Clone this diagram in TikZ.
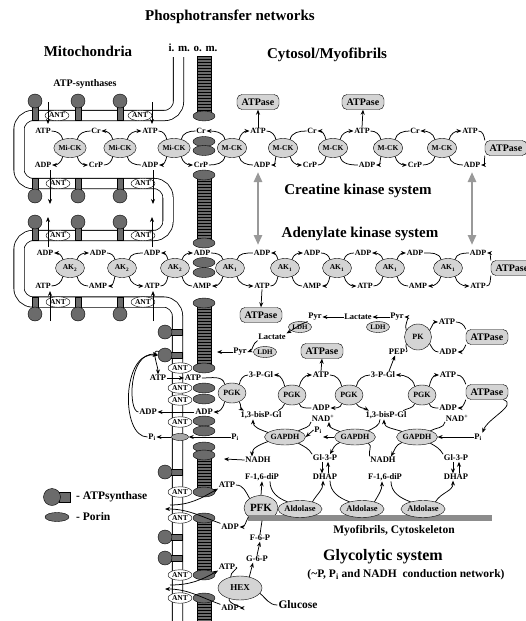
\documentclass[tikz,border=0pt]{standalone}
\usepackage{fontspec}
\setmainfont{Liberation Serif}
\usetikzlibrary{shapes.geometric,arrows.meta}
\definecolor{enzg}{gray}{0.83}
\definecolor{porg}{gray}{0.42}
\definecolor{barg}{gray}{0.55}
\definecolor{arrg}{gray}{0.6}
\newcommand\rxnF[5]{%
  \draw[cv] (#1.130) to[out=100,in=0] (#2.east);
  \draw[cv] (#1.50) to[out=80,in=180] (#3.west);
  \draw[cv,ah] (#1.230) to[out=-100,in=0] (#4.east);
  \draw[cv,ah] (#1.310) to[out=-80,in=180] (#5.west);}
\newcommand\rxnR[5]{%
  \draw[cv,ah] (#1.130) to[out=100,in=0] (#2.east);
  \draw[cv,ah] (#1.50) to[out=80,in=180] (#3.west);
  \draw[cv] (#1.230) to[out=-100,in=0] (#4.east);
  \draw[cv] (#1.310) to[out=-80,in=180] (#5.west);}
\newcommand\pcol[2]{%
  \filldraw[fill=porg,line width=0.5pt] (197,#1) rectangle (211,#2);
  \draw[line width=13.5pt,dash pattern=on 0.7pt off 2.3pt] (204,#1) -- (204,#2);}
\begin{document}
\begin{tikzpicture}[x=1pt,y=-1pt,
  lb/.style={font=\fontsize{8}{8}\selectfont\bfseries, inner sep=0.6pt},
  gl/.style={font=\fontsize{8.5}{9}\selectfont\bfseries, inner sep=0.6pt},
  lbw/.style={lb, fill=white},
  enz/.style={ellipse, draw, fill=enzg, font=\fontsize{7.5}{8}\selectfont\bfseries, inner sep=0pt, minimum width=29pt, minimum height=19pt},
  abox/.style={draw, rounded corners=5pt, fill=enzg, font=\fontsize{10}{10}\selectfont\bfseries, minimum width=42pt, minimum height=15pt, inner sep=0pt},
  ant/.style={ellipse, draw, fill=white, font=\fontsize{7.5}{8}\selectfont\bfseries, inner sep=0pt, minimum width=24pt, minimum height=10.5pt},
  por/.style={ellipse, draw, fill=porg, inner sep=0pt, minimum width=22pt, minimum height=10pt},
  head/.style={circle, draw, fill=porg, inner sep=0pt, minimum size=14pt},
  cv/.style={line width=0.75pt},
  ah/.style={-{Stealth[length=5pt,width=4pt]}},
  ttl/.style={font=\fontsize{15}{17}\selectfont\bfseries},
  mid/.style={font=\fontsize{11.5}{13}\selectfont\bfseries, inner sep=1pt},
  garr/.style={draw=arrg, line width=2.5pt, {Triangle[length=10pt,width=8pt]}-{Triangle[length=10pt,width=8pt]}}
]
\useasboundingbox (0,0) rectangle (526,621);
\clip (0,0) rectangle (526,621);

% ---------------- titles ----------------
\node[ttl] (tPN) at (230,17) {Phosphotransfer networks};
\node[ttl] (tMi) at (88,51) {Mitochondria};
\node[font=\fontsize{11}{12}\selectfont\bfseries] (tIM) at (193,48) {i. m. o. m.};
\node[ttl] (tCy) at (327,55) {Cytosol/Myofibrils};
\node[font=\fontsize{10}{11}\selectfont\bfseries] (tAS) at (85,84) {ATP-synthases};
\node[ttl] (tCK) at (358,191) {Creatine kinase system};
\node[ttl] (tAK) at (360,234) {Adenylate kinase system};
\node[mid] (tMy) at (394,531) {Myofibrils, Cytoskeleton};
\node[font=\fontsize{16}{17}\selectfont\bfseries] (tGl) at (383,557) {Glycolytic system};
\node[mid] (tCn) at (406,575) {(\textasciitilde P, P\textsubscript{i} and NADH\ \ conduction network)};

% ---------------- inner membrane tube ----------------
\draw[line width=0.8pt, double=white, double distance=9.5pt, rounded corners=14pt]
  (178.5,57) -- (178.5,115.5) -- (19,115.5) -- (19,183.5) -- (168,183.5) -- (168,235.5)
  -- (19,235.5) -- (19,302) -- (177.5,302) -- (177.5,640);

% ATP synthases on cristae
\foreach \x in {35,78,120} {
  \filldraw[fill=porg] (\x-3,105) rectangle (\x+3,120.5);
  \node[head] (hA\x) at (\x,101) {};
  \filldraw[fill=porg] (\x-3,178.5) rectangle (\x+3,192);
  \node[head] (hB\x) at (\x,196) {};
  \filldraw[fill=porg] (\x-3,226) rectangle (\x+3,240.5);
  \node[head] (hC\x) at (\x,222) {};
  \filldraw[fill=porg] (\x-3,297) rectangle (\x+3,310);
  \node[head] (hD\x) at (\x,314) {};
}
\foreach \y/\n in {332/1,355/2,472/3,537/4,558/5} {
  \filldraw[fill=porg] (169,\y-3) rectangle (182.5,\y+3);
  \node[head] (hv\n) at (165,\y) {};
}

% ANTs
\node[ant] (an1) at (57,115.5) {ANT};
\node[ant] (an2) at (140,115.5) {ANT};
\node[ant] (an3) at (58,183.5) {ANT};
\node[ant] (an4) at (143,183.5) {ANT};
\node[ant] (an5) at (58,235.5) {ANT};
\node[ant] (an6) at (143,235.5) {ANT};
\node[ant] (an7) at (58,302) {ANT};
\node[ant] (an8) at (143,302) {ANT};
\foreach \y/\n in {368/a,388/b,400/c,422/d,492/e,518/f,575/g,598/h} {
  \node[ant] (av\n) at (180,\y) {ANT};
}

% ---------------- porin columns (outer membrane) ----------------
\pcol{56}{113}
\node[por] (pc1b) at (204,116) {};
\node[por] (pp1a) at (204,141.5) {};
\node[por] (pp1b) at (204,150.5) {};
\pcol{175}{243}
\node[por] (pc2a) at (204,175) {};
\node[por] (pc2b) at (204,243) {};
\node[por] (pp2a) at (204,262.5) {};
\node[por] (pp2b) at (204,272.5) {};
\pcol{303}{368}
\node[por] (pc3a) at (204,303) {};
\node[por] (pc3b) at (204,368) {};
\node[por] (pp3a) at (204,388) {};
\node[por] (pp3b) at (204,399) {};
\node[por] (pp4a) at (204,421) {};
\node[por] (pp4b) at (204,431) {};
\node[por] (pp5) at (204,447) {};
\pcol{455}{492}
\node[por] (pc4a) at (204,455) {};
\node[por] (pc4b) at (204,492) {};
\pcol{518}{575}
\node[por] (pc5a) at (204,518) {};
\node[por] (pc5b) at (204,575) {};
\pcol{598}{630}
\node[por] (pc6a) at (204,598) {};

% ---------------- creatine kinase row ----------------
\node[lb] (ckt1) at (43,131) {ATP};
\node[lb] (ckt2) at (96,131) {Cr};
\node[lb] (ckt3) at (150,131) {ATP};
\node[lb] (ckt4) at (201,131) {Cr};
\node[lb] (ckt5) at (258,131) {ATP};
\node[lb] (ckt6) at (312,131) {Cr};
\node[lb] (ckt7) at (362,131) {ATP};
\node[lb] (ckt8) at (415,131) {Cr};
\node[lb] (ckt9) at (470,131) {ATP};
\node[lb] (ckb1) at (43,165) {ADP};
\node[lb] (ckb2) at (96,165) {CrP};
\node[lb] (ckb3) at (150,165) {ADP};
\node[lb] (ckb4) at (201,165) {CrP};
\node[lb] (ckb5) at (262,165) {ADP};
\node[lb] (ckb6) at (310,165) {CrP};
\node[lb] (ckb7) at (367,165) {ADP};
\node[lb] (ckb8) at (415,165) {CrP};
\node[lb] (ckb9) at (472,165) {ADP};
\node[enz] (ck1) at (70,148) {Mi-CK};
\node[enz] (ck2) at (120,148) {Mi-CK};
\node[enz] (ck3) at (174,148) {Mi-CK};
\node[enz] (ck4) at (232,148) {M-CK};
\node[enz] (ck5) at (283,148) {M-CK};
\node[enz] (ck6) at (333,148) {M-CK};
\node[enz] (ck7) at (388,148) {M-CK};
\node[enz] (ck8) at (442,148) {M-CK};
\node[abox] (ckA) at (506,148) {ATPase};
\node[abox] (ckP1) at (258,102) {ATPase};
\node[abox] (ckP2) at (363,102) {ATPase};
\rxnF{ck1}{ckt1}{ckt2}{ckb1}{ckb2}
\rxnR{ck2}{ckt2}{ckt3}{ckb2}{ckb3}
\rxnF{ck3}{ckt3}{ckt4}{ckb3}{ckb4}
\rxnR{ck4}{ckt4}{ckt5}{ckb4}{ckb5}
\rxnF{ck5}{ckt5}{ckt6}{ckb5}{ckb6}
\rxnR{ck6}{ckt6}{ckt7}{ckb6}{ckb7}
\rxnF{ck7}{ckt7}{ckt8}{ckb7}{ckb8}
\rxnR{ck8}{ckt8}{ckt9}{ckb8}{ckb9}
\draw[cv] (ckA.160) to[out=100,in=0] (ckt9.east);
\draw[cv,ah] (ckA.200) to[out=-100,in=0] (ckb9.east);
\draw[cv,ah] (ckt5.north) -- (ckP1.south);
\draw[cv,ah] (ckt7.north) -- (ckP2.south);

% ---------------- adenylate kinase row ----------------
\node[lb] (akt1) at (45,253) {ADP};
\node[lb] (akt2) at (98,253) {ADP};
\node[lb] (akt3) at (152,253) {ADP};
\node[lb] (akt4) at (202,253) {ADP};
\node[lb] (akt5) at (262,253) {ADP};
\node[lb] (akt6) at (312,253) {ADP};
\node[lb] (akt7) at (363,253) {ADP};
\node[lb] (akt8) at (415,253) {ADP};
\node[lb] (akt9) at (478,253) {ADP};
\node[lb] (akb1) at (43,286) {ATP};
\node[lb] (akb2) at (98,286) {AMP};
\node[lb] (akb3) at (152,286) {ATP};
\node[lb] (akb4) at (202,286) {AMP};
\node[lb] (akb5) at (262,286) {ATP};
\node[lb] (akb6) at (312,286) {AMP};
\node[lb] (akb7) at (365,286) {ATP};
\node[lb] (akb8) at (418,286) {AMP};
\node[lb] (akb9) at (478,286) {ATP};
\node[enz] (ak1) at (70,268) {AK\textsubscript{2}};
\node[enz] (ak2) at (122,268) {AK\textsubscript{2}};
\node[enz] (ak3) at (175,268) {AK\textsubscript{2}};
\node[enz] (ak4) at (230,268) {AK\textsubscript{1}};
\node[enz] (ak5) at (285,268) {AK\textsubscript{1}};
\node[enz] (ak6) at (337,268) {AK\textsubscript{1}};
\node[enz] (ak7) at (390,268) {AK\textsubscript{1}};
\node[enz] (ak8) at (448,268) {AK\textsubscript{1}};
\node[abox] (akA) at (512,268) {ATPase};
\node[abox] (akP) at (261,315) {ATPase};
\rxnR{ak1}{akt1}{akt2}{akb1}{akb2}
\rxnF{ak2}{akt2}{akt3}{akb2}{akb3}
\rxnR{ak3}{akt3}{akt4}{akb3}{akb4}
\rxnF{ak4}{akt4}{akt5}{akb4}{akb5}
\rxnR{ak5}{akt5}{akt6}{akb5}{akb6}
\rxnF{ak6}{akt6}{akt7}{akb6}{akb7}
\rxnR{ak7}{akt7}{akt8}{akb7}{akb8}
\rxnF{ak8}{akt8}{akt9}{akb8}{akb9}
\draw[cv,ah] (akA.160) to[out=100,in=0] (akt9.east);
\draw[cv] (akA.200) to[out=-100,in=0] (akb9.east);
\draw[cv,ah] (akb5.south) -- (akP.north);

% gray double arrows
\coordinate (g1a) at (258,172); \coordinate (g1b) at (258,245);
\coordinate (g2a) at (472,172); \coordinate (g2b) at (472,245);
\draw[garr] (g1a) -- (g1b);
\draw[garr] (g2a) -- (g2b);

% arrows through the ANTs of the cristae
\foreach \xa/\ya/\yb in {48/102/124, 152/102/124, 50/170/204, 153/170/204, 48/247/217, 152/247/217, 50/321/291, 153/321/291} {
  \coordinate (sA) at (\xa,\ya); \coordinate (sB) at (\xa,\yb);
  \draw[cv,ah] (sA) -- (sB);
}

% ---------------- glycolysis ----------------
% lactate / pyruvate
\node[gl] (pyrt) at (315,317) {Pyr};
\node[gl] (lact) at (358,317) {Lactate};
\node[gl] (pyrt2) at (397,317) {Pyr};
\node[enz, minimum width=23pt, minimum height=11pt, font=\fontsize{7}{7}\selectfont\bfseries] (ldh1) at (378,327) {LDH};
\node[enz, minimum width=23pt, minimum height=11pt, font=\fontsize{7}{7}\selectfont\bfseries] (ldh2) at (300,327) {LDH};
\node[gl] (lactm) at (272,337) {Lactate};
\node[gl] (pyrm) at (240,352) {Pyr};
\node[enz, minimum width=23pt, minimum height=11pt, font=\fontsize{7}{7}\selectfont\bfseries] (ldh3) at (265,352) {LDH};
\coordinate (pyrE) at (217,352);
\draw[cv,ah] (lact.west) -- (pyrt.east);
\draw[cv,ah] (pyrt2.west) -- (lact.east);
\draw[cv,ah] (pyrt.south west) to[out=-160,in=30] (lactm.north east);
\draw[cv,ah] (lactm.south west) to[out=-150,in=20] (pyrm.east);
\draw[cv,ah] (pyrm.west) -- (pyrE);

% pyruvate kinase
\node[enz, minimum width=27pt, minimum height=26pt, font=\fontsize{8}{8}\selectfont\bfseries] (pk) at (418,337) {PK};
\node[gl] (pep) at (397,352) {PEP};
\node[gl] (atpk) at (447,322) {ATP};
\node[gl] (adpk) at (448,352) {ADP};
\node[abox] (pkA) at (487,337) {ATPase};
\draw[cv,ah] (pk.150) to[out=120,in=0] (pyrt2.east);
\draw[cv] (pep.east) to[out=0,in=-120] (pk.210);
\draw[cv,ah] (pk.30) to[out=60,in=180] (atpk.west);
\draw[cv] (pk.-30) to[out=-60,in=180] (adpk.west);
\draw[cv] (atpk.east) to[out=0,in=110] (pkA.160);
\draw[cv,ah] (pkA.200) to[out=-110,in=0] (adpk.east);

% PGK row
\node[gl,fill=white] (atpL) at (158,378) {ATP};
\node[gl,fill=white] (pgt1) at (193,378) {ATP};
\node[gl] (pgt2) at (261,375) {3-P-Gl};
\node[gl] (pgt3) at (321,375) {ATP};
\node[gl] (pgt4) at (383,375) {3-P-Gl};
\node[gl] (pgt5) at (448,375) {ATP};
\node[gl,fill=white] (adpL) at (148,412) {ADP};
\node[gl,fill=white] (pgb1) at (204,412) {ADP};
\node[gl] (pgb2) at (261,415) {1,3-bisP-Gl};
\node[gl] (pgb3) at (321,408) {ADP};
\node[gl] (pgb4) at (386,415) {1,3-bisP-Gl};
\node[gl] (pgb5) at (448,408) {ADP};
\node[enz, minimum width=28pt, minimum height=20pt, font=\fontsize{8}{8}\selectfont\bfseries] (pg1) at (232,393) {PGK};
\node[enz, minimum width=28pt, minimum height=20pt, font=\fontsize{8}{8}\selectfont\bfseries] (pg2) at (292,395) {PGK};
\node[enz, minimum width=28pt, minimum height=20pt, font=\fontsize{8}{8}\selectfont\bfseries] (pg3) at (349,395) {PGK};
\node[enz, minimum width=28pt, minimum height=20pt, font=\fontsize{8}{8}\selectfont\bfseries] (pg4) at (422,395) {PGK};
\node[abox] (pgA) at (487,392) {ATPase};
\node[abox] (pgP) at (322,351) {ATPase};
\draw[cv,ah] (atpL.east) -- (pgt1.west);
\draw[cv,ah] (pgb1.west) -- (adpL.east);
\draw[cv] (pg1.130) to[out=100,in=0] (pgt1.east);
\draw[cv] (pg1.50) to[out=80,in=180] (pgt2.west);
\draw[cv,ah] (pg1.230) to[out=-100,in=0] (pgb1.east);
\draw[cv,ah] (pg1.310) to[out=-60,in=150] ([xshift=4pt]pgb2.north west);
\draw[cv,ah] (pg2.130) to[out=100,in=0] (pgt2.east);
\draw[cv,ah] (pg2.50) to[out=80,in=180] (pgt3.west);
\draw[cv] (pg2.230) to[out=-110,in=30] ([xshift=-4pt]pgb2.north east);
\draw[cv] (pg2.310) to[out=-80,in=180] (pgb3.west);
\draw[cv] (pg3.130) to[out=100,in=0] (pgt3.east);
\draw[cv] (pg3.50) to[out=80,in=180] (pgt4.west);
\draw[cv,ah] (pg3.230) to[out=-100,in=0] (pgb3.east);
\draw[cv,ah] (pg3.310) to[out=-60,in=150] ([xshift=4pt]pgb4.north west);
\draw[cv,ah] (pg4.130) to[out=100,in=0] (pgt4.east);
\draw[cv,ah] (pg4.50) to[out=80,in=180] (pgt5.west);
\draw[cv] (pg4.230) to[out=-110,in=30] ([xshift=-4pt]pgb4.north east);
\draw[cv] (pg4.310) to[out=-80,in=180] (pgb5.west);
\draw[cv] (pgt5.east) to[out=0,in=110] (pgA.160);
\draw[cv,ah] (pgA.200) to[out=-110,in=0] (pgb5.east);
\draw[cv,ah] (pgt3.north) -- (pgP.south);
\draw[cv,ah] ([xshift=6pt]pgt4.north) -- ([xshift=-2pt]pep.south);

% GAPDH row
\node[gl] (nad1) at (323,418) {NAD\textsuperscript{+}};
\node[gl] (nad2) at (457,418) {NAD\textsuperscript{+}};
\node[gl] (pia) at (318,430) {P\textsubscript{i}};
\node[gl] (pib) at (478,437) {P\textsubscript{i}};
\node[gl,fill=white] (piL) at (235,437) {P\textsubscript{i}};
\node[gl,fill=white] (piF) at (152,437) {P\textsubscript{i}};
\node[ellipse, draw, fill=porg!60, minimum width=17pt, minimum height=7pt, inner sep=0pt] (pic) at (180,437) {};
\node[gl] (nadh1) at (258,460) {NADH};
\node[gl] (nadh2) at (383,460) {NADH};
\node[gl] (gl3p1) at (325,458) {Gl-3-P};
\node[gl] (gl3p2) at (456,458) {Gl-3-P};
\node[enz, minimum width=38pt, minimum height=16pt, font=\fontsize{8}{8}\selectfont\bfseries] (gd1) at (285,437) {GAPDH};
\node[enz, minimum width=38pt, minimum height=16pt, font=\fontsize{8}{8}\selectfont\bfseries] (gd2) at (355,437) {GAPDH};
\node[enz, minimum width=38pt, minimum height=16pt, font=\fontsize{8}{8}\selectfont\bfseries] (gd3) at (417,437) {GAPDH};
\coordinate (pia2) at (323,437);
\coordinate (nadhE) at (224,459);
\draw[cv,ah] (gd1.165) to[out=160,in=-90] ([xshift=-8pt]pgb2.south);
\draw[cv,ah] (gd1.195) to[out=200,in=90] ([xshift=-6pt]nadh1.north);
\draw[cv] (nad1.south west) to[out=-100,in=30] (gd1.25);
\draw[cv] (gl3p1.north west) to[out=120,in=-30] (gd1.-25);
\draw[cv,ah] (pia.west) -- (gd1.east);
\draw[cv,ah] (gd2.west) -- (pia2);
\draw[cv,ah] (gd2.160) to[out=160,in=-90] ([xshift=6pt]nad1.south);
\draw[cv,ah] (gd2.200) to[out=200,in=60] ([xshift=5pt]gl3p1.north);
\draw[cv] ([xshift=-6pt]pgb4.south) to[out=-90,in=30] (gd2.25);
\draw[cv] (nadh2.north west) to[out=110,in=-30] (gd2.-25);
\draw[cv,ah] (gd3.160) to[out=160,in=-90] ([xshift=-2pt]pgb4.south);
\draw[cv,ah] (gd3.200) to[out=200,in=60] ([xshift=8pt]nadh2.north);
\draw[cv] (nad2.south west) to[out=-100,in=30] (gd3.25);
\draw[cv] (gl3p2.north west) to[out=120,in=-30] (gd3.-25);
\draw[cv,ah] (pib.west) -- (gd3.east);
\draw[cv,ah] (pgA.-25) to[out=-20,in=70] (pib.north east);
\draw[cv,ah] (nadh1.west) -- (nadhE);
\draw[cv,ah] (piL.west) -- (pic.east);
\draw[cv,ah] (pic.west) -- (piF.east);

% aldolase row
\node[gl] (f16a) at (262,477) {F-1,6-diP};
\node[gl] (dhapa) at (325,477) {DHAP};
\node[gl] (f16b) at (385,477) {F-1,6-diP};
\node[gl] (dhapb) at (456,477) {DHAP};
\draw[cv,ah] ([xshift=-3pt]gl3p1.south) -- ([xshift=-3pt]dhapa.north);
\draw[cv,ah] ([xshift=3pt]dhapa.north) -- ([xshift=3pt]gl3p1.south);
\draw[cv,ah] ([xshift=-3pt]gl3p2.south) -- ([xshift=-3pt]dhapb.north);
\draw[cv,ah] ([xshift=3pt]dhapb.north) -- ([xshift=3pt]gl3p2.south);
\node[enz, minimum width=34pt, minimum height=25pt, font=\fontsize{11}{11}\selectfont\bfseries] (pfk) at (261,508) {PFK};
\fill[barg] (248,515) rectangle (492,521);
\node[enz, minimum width=44pt, minimum height=17pt, font=\fontsize{8.5}{9}\selectfont\bfseries] (al1) at (300,509) {Aldolase};
\node[enz, minimum width=44pt, minimum height=17pt, font=\fontsize{8.5}{9}\selectfont\bfseries] (al2) at (362,509) {Aldolase};
\node[enz, minimum width=44pt, minimum height=17pt, font=\fontsize{8.5}{9}\selectfont\bfseries] (al3) at (423,509) {Aldolase};
\draw[cv] ([xshift=8pt]f16a.south) to[out=-90,in=160] (al1.150);
\draw[cv,ah] (al1.30) to[out=60,in=-90] ([xshift=-2pt]dhapa.south);
\draw[cv] ([xshift=5pt]dhapa.south) to[out=-90,in=160] (al2.150);
\draw[cv,ah] (al2.30) to[out=60,in=-90] ([xshift=-3pt]f16b.south);
\draw[cv] ([xshift=6pt]f16b.south) to[out=-90,in=160] (al3.150);
\draw[cv,ah] (al3.30) to[out=60,in=-90] ([xshift=-3pt]dhapb.south);

% PFK and HEX
\node[gl,fill=white] (atpp) at (227,485) {ATP};
\node[gl,fill=white] (adpp) at (230,527) {ADP};
\node[gl] (f6p) at (260,538) {F-6-P};
\node[gl] (g6p) at (257,559) {G-6-P};
\node[gl,fill=white] (atph) at (227,567) {ATP};
\node[gl,fill=white] (adph) at (230,608) {ADP};
\node[enz, minimum width=44pt, minimum height=24pt, font=\fontsize{9}{9}\selectfont\bfseries] (hex) at (240,588) {HEX};
\node[mid] (glc) at (298,605) {Glucose};
\draw[cv,ah] (pfk.north) -- (f16a.south);
\draw[cv] (atpp.east) to[out=0,in=120] (pfk.140);
\draw[cv,ah] (pfk.215) to[out=-120,in=0] (adpp.east);
\draw[cv] (f6p.north) -- ([xshift=1pt]pfk.south);
\draw[cv,ah] (g6p.north) -- (f6p.south);
\draw[cv,ah] (hex.50) -- ([xshift=-4pt]g6p.south);
\draw[cv] (atph.east) to[out=0,in=110] (hex.130);
\draw[cv,ah] (hex.225) to[out=-120,in=0] (adph.east);
\draw[cv] (hex.-15) to[out=-40,in=180] (glc.west);
\coordinate (mA1) at (170,505); \coordinate (mA2) at (165,509);
\coordinate (mB1) at (170,585); \coordinate (mB2) at (165,589);
\draw[cv,ah] (mA1) to[out=0,in=-150] (atpp.south west);
\draw[cv,ah] (adpp.north west) to[out=160,in=0] (mA2);
\draw[cv,ah] (mB1) to[out=0,in=-150] (atph.south west);
\draw[cv,ah] (adph.north west) to[out=160,in=0] (mB2);

% matrix side near the vertical membrane
\draw[cv,ah] (hv2.150) to[out=160,in=90] (atpL.north);
\draw[cv,ah] (adpL.west) .. controls (128,412) and (128,352) .. (hv2.175);
\draw[cv,ah] (piF.west) .. controls (120,437) and (122,350) .. (hv2.185);

% legend
\filldraw[fill=porg] (59,492) rectangle (70,502);
\node[head, minimum size=17pt] (lgH) at (52,497) {};
\node[mid, anchor=west] (lgT1) at (75,497) {- ATPsynthase};
\node[por, minimum width=24pt, minimum height=9pt] (lgP) at (57,517) {};
\node[mid, anchor=west] (lgT2) at (75,517) {- Porin};
\end{tikzpicture}
\end{document}
